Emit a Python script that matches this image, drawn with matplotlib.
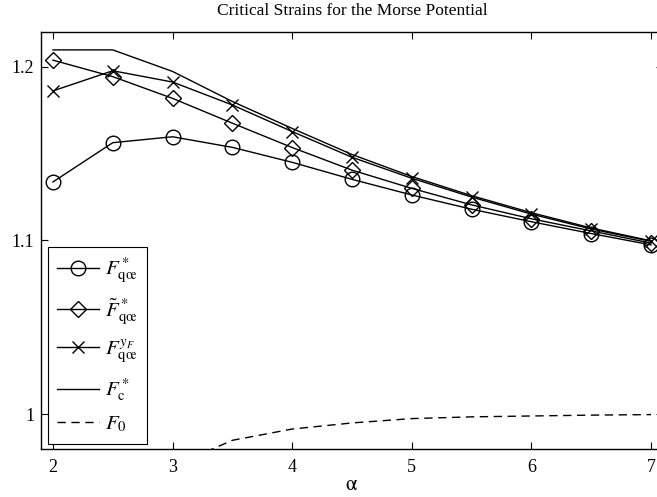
import matplotlib
matplotlib.use("Agg")
import matplotlib.pyplot as plt

plt.rcParams['font.family'] = ['Liberation Serif', 'DejaVu Serif']
plt.rcParams['mathtext.fontset'] = 'stix'

alpha = [2.0, 2.5, 3.0, 3.5, 4.0, 4.5, 5.0, 5.5, 6.0, 6.5, 7.0]
F_qoe = [1.1337, 1.1563, 1.1597, 1.1536, 1.1450, 1.1352, 1.1262, 1.1180, 1.1108, 1.1040, 1.0975]
F_qoe_tilde = [1.2038, 1.1943, 1.1818, 1.1675, 1.1535, 1.1405, 1.1300, 1.1205, 1.1125, 1.1055, 1.0985]
F_qoe_yF = [1.1861, 1.1977, 1.1912, 1.1780, 1.1627, 1.1479, 1.1358, 1.1250, 1.1152, 1.1066, 1.0995]
F_c = [1.2097, 1.2097, 1.1973, 1.1800, 1.1645, 1.1495, 1.1368, 1.1258, 1.1160, 1.1072, 1.0998]
F_0 = [0.930, 0.955, 0.970, 0.985, 0.9915, 0.995, 0.9975, 0.9985, 0.999, 0.9995, 0.9998]

W, H = 657, 497
fig = plt.figure(figsize=(W / 100, H / 100), dpi=100)
ax = fig.add_axes([41 / W, 1 - 449 / H, (663 - 41) / W, (449 - 32) / H])

kw = dict(color='black', lw=1.0, markerfacecolor='none', markeredgecolor='black', markeredgewidth=1.0)
ax.plot(alpha, F_qoe, marker='o', ms=10.5, label=r'$F^*_{\mathrm{q\oe}}$', **kw)
ax.plot(alpha, F_qoe_tilde, marker='D', ms=8, label=r'$\tilde{F}^*_{\mathrm{q\oe}}$', **kw)
ax.plot(alpha, F_qoe_yF, marker='x', ms=8, label=r'$F^{y_F}_{\mathrm{q\oe}}$', **kw)
ax.plot(alpha, F_c, label=r'$F^*_{\mathrm{c}}$', color='black', lw=1.0)
ax.plot(alpha, F_0, '--', label=r'$F_0$', color='black', lw=1.0, dashes=(6, 4))

ax.set_xlim(1.9, 7.1)
ax.set_ylim(0.98, 1.22)
ax.set_xticks([2, 3, 4, 5, 6, 7])
ax.set_yticks([1.0, 1.1, 1.2])
ax.set_yticklabels(['1', '1.1', '1.2'])
ax.tick_params(direction='in', top=True, right=True, labelsize=13, length=5, width=0.8)
ax.tick_params(axis='x', pad=7)
ax.tick_params(axis='y', pad=5)
for s in ax.spines.values():
    s.set_linewidth(1.0)

ax.set_title('Critical Strains for the Morse Potential', fontsize=12.5, pad=12)
ax.set_xlabel(r'$\mathrm{\alpha}$', fontsize=15, labelpad=0)

leg = ax.legend(loc='lower left', bbox_to_anchor=(7 / 622, 5 / 417), fontsize=15,
                frameon=True, fancybox=False, edgecolor='black', framealpha=1,
                labelspacing=0.55, handlelength=2.0, handletextpad=0.3,
                borderpad=0.45, borderaxespad=0)
leg.get_frame().set_linewidth(0.8)

fig.savefig('out.png', dpi=100)
